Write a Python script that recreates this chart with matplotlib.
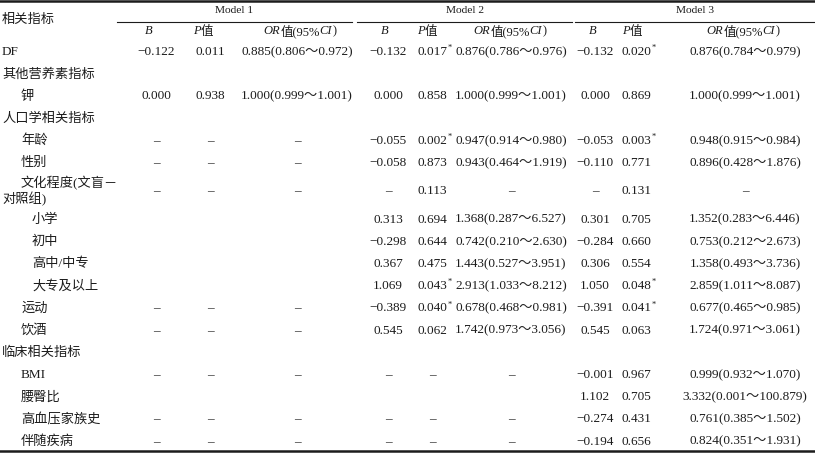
import matplotlib
matplotlib.use("Agg")
import matplotlib.pyplot as plt

plt.rcParams['font.family'] = ['Liberation Serif', 'Noto Sans CJK SC']

# 表格数据
models = ["Model 1", "Model 2", "Model 3"]
# 表头: (文字, 是否斜体)
col_heads = [[("B", True)],
             [("P", True), ("值", False)],
             [("OR", True), ("值(95%", False), ("CI", True), (")", False)]]

row_labels = ["DF", "其他营养素指标", "钾", "人口学相关指标", "年龄", "性别",
              "文化程度(文盲－\n对照组)", "小学", "初中", "高中/中专", "大专及以上",
              "运动", "饮酒", "临床相关指标", "BMI", "腰臀比", "高血压家族史", "伴随疾病"]
row_level = [0, 0, 1, 0, 1, 1, 1, 2, 2, 2, 2, 1, 1, 0, 1, 1, 1, 1]

m1_b = ["−0.122", "", "0.000", "", "–", "–", "–", "", "", "", "", "–", "–", "", "–", "", "–", "–"]
m1_p = ["0.011", "", "0.938", "", "–", "–", "–", "", "", "", "", "–", "–", "", "–", "", "–", "–"]
m1_or = ["0.885(0.806～0.972)", "", "1.000(0.999～1.001)", "", "–", "–", "–", "", "", "", "",
         "–", "–", "", "–", "", "–", "–"]

m2_b = ["−0.132", "", "0.000", "", "−0.055", "−0.058", "–", "0.313", "−0.298", "0.367", "1.069",
        "−0.389", "0.545", "", "–", "", "–", "–"]
m2_p = ["0.017*", "", "0.858", "", "0.002*", "0.873", "0.113", "0.694", "0.644", "0.475", "0.043*",
        "0.040*", "0.062", "", "–", "", "–", "–"]
m2_or = ["0.876(0.786～0.976)", "", "1.000(0.999～1.001)", "", "0.947(0.914～0.980)",
         "0.943(0.464～1.919)", "–", "1.368(0.287～6.527)", "0.742(0.210～2.630)",
         "1.443(0.527～3.951)", "2.913(1.033～8.212)", "0.678(0.468～0.981)",
         "1.742(0.973～3.056)", "", "–", "", "–", "–"]

m3_b = ["−0.132", "", "0.000", "", "−0.053", "−0.110", "–", "0.301", "−0.284", "0.306", "1.050",
        "−0.391", "0.545", "", "−0.001", "1.102", "−0.274", "−0.194"]
m3_p = ["0.020*", "", "0.869", "", "0.003*", "0.771", "0.131", "0.705", "0.660", "0.554", "0.048*",
        "0.041*", "0.063", "", "0.967", "0.705", "0.431", "0.656"]
m3_or = ["0.876(0.784～0.979)", "", "1.000(0.999～1.001)", "", "0.948(0.915～0.984)",
         "0.896(0.428～1.876)", "–", "1.352(0.283～6.446)", "0.753(0.212～2.673)",
         "1.358(0.493～3.736)", "2.859(1.011～8.087)", "0.677(0.465～0.985)",
         "1.724(0.971～3.061)", "", "0.999(0.932～1.070)", "3.332(0.001～100.879)",
         "0.761(0.385～1.502)", "0.824(0.351～1.931)"]

columns = [m1_b, m1_p, m1_or, m2_b, m2_p, m2_or, m3_b, m3_p, m3_or]

# 版式 (像素坐标)
W, H = 815, 458
head_x = [149, 203, 300, 385, 427, 510, 593, 632, 743]
val_x = [156, 210, 297, 388, 432, 511, 595, 636, 745]
group_span = [(117, 352), (357, 572), (575, 815)]
indent = {0: 2, 1: 21, 2: 32}
color = '#1c1c1c'
fs = 9.5

fig = plt.figure(figsize=(W / 100, H / 100), dpi=100)
ax = fig.add_axes([0, 0, 1, 1])
ax.set_xlim(0, W)
ax.set_ylim(H, 0)
ax.axis('off')
renderer = fig.canvas.get_renderer()


def rich(xc, y, parts, size):
    # 多段文字居中排在 xc
    objs = []
    for s, it in parts:
        objs.append(ax.text(0, y, s, ha='left', va='center', fontsize=size,
                            style='italic' if it else 'normal', color=color))
    widths = [t.get_window_extent(renderer).width for t in objs]
    x = xc - sum(widths) / 2
    for t, w in zip(objs, widths):
        t.set_x(x)
        x += w


# 横线
ax.plot([0, W], [1.2, 1.2], color=color, lw=1.8)
ax.plot([0, W], [451, 451], color=color, lw=1.8)
for (a, b), name in zip(group_span, models):
    ax.plot([a, b], [21.5, 21.5], color=color, lw=0.8)
    ax.text((a + b) / 2, 10.5, name, ha='center', va='center', fontsize=8.2, color=color)

ax.text(2, 20, "相关指标", ha='left', va='center', fontsize=fs, color=color)
for k, x in enumerate(head_x):
    rich(x, 31.5, col_heads[k % 3], fs - 0.5)

# 行位置
y = 52
ys = []
for i, lab in enumerate(row_labels):
    ys.append(y)
    if i + 1 < len(row_labels):
        h_this = 22.2 + (12.3 if "\n" in lab else 0)
        h_next = 22.2 + (12.3 if "\n" in row_labels[i + 1] else 0)
        y += (h_this + h_next) / 2

for i, lab in enumerate(row_labels):
    lines = lab.split("\n")
    if len(lines) == 1:
        ax.text(indent[row_level[i]], ys[i], lab, ha='left', va='center', fontsize=fs, color=color)
    else:
        ax.text(indent[row_level[i]], ys[i] - 8.5, lines[0], ha='left', va='center', fontsize=fs, color=color)
        ax.text(indent[0], ys[i] + 8, lines[1], ha='left', va='center', fontsize=fs, color=color)
    for k, col in enumerate(columns):
        s = col[i]
        if not s:
            continue
        if s.endswith("*"):
            t = ax.text(val_x[k], ys[i], s[:-1], ha='center', va='center', fontsize=fs, color=color)
            w = t.get_window_extent(renderer).width
            ax.text(val_x[k] + w / 2 + 0.5, ys[i] - 4, "*", ha='left', va='center',
                    fontsize=6, color=color)
        else:
            ax.text(val_x[k], ys[i], s, ha='center', va='center', fontsize=fs, color=color)

fig.savefig("out.png", dpi=100)
